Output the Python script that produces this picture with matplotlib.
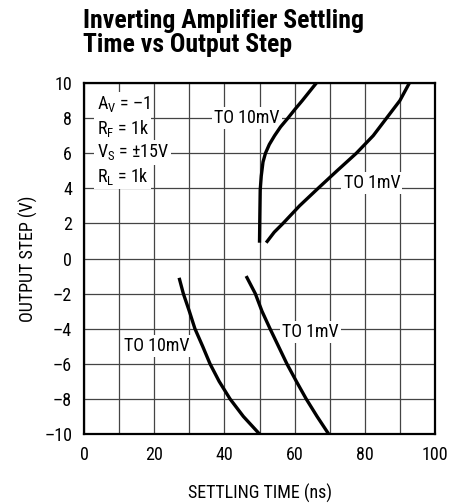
import matplotlib
matplotlib.use('Agg')
import matplotlib.pyplot as plt

plt.rcParams['font.family'] = ['Roboto Condensed', 'DejaVu Sans']
plt.rcParams['mathtext.fontset'] = 'custom'
plt.rcParams['mathtext.rm'] = 'Roboto Condensed'

# settling time (ns) vs output step (V)
pos_10mv_t = [50.0, 50.1, 50.2, 50.5, 51.0, 51.7, 52.8, 54.3, 56.0, 58.1, 60.1, 62.2, 64.2, 66.2]
pos_10mv_v = [0.9, 2.5, 3.9, 4.7, 5.5, 6.0, 6.5, 7.0, 7.5, 8.0, 8.5, 9.0, 9.5, 10.0]

pos_1mv_t = [51.9, 54.2, 56.7, 61.4, 66.7, 72.1, 77.6, 82.4, 86.2, 90.0, 92.7]
pos_1mv_v = [0.9, 1.5, 2.0, 3.0, 4.0, 5.0, 6.0, 7.0, 8.0, 9.0, 10.0]

neg_10mv_t = [27.1, 28.3, 30.0, 31.6, 33.8, 35.9, 38.5, 41.6, 45.4, 50.0]
neg_10mv_v = [-1.1, -2.0, -3.0, -4.0, -5.0, -6.0, -7.0, -8.0, -9.0, -10.0]

neg_1mv_t = [46.2, 48.8, 50.7, 53.0, 55.4, 57.8, 60.5, 63.3, 66.4, 69.7]
neg_1mv_v = [-1.0, -2.0, -3.0, -4.0, -5.0, -6.0, -7.0, -8.0, -9.0, -10.0]

x_ticks = [0, 20, 40, 60, 80, 100]
y_ticks = [10, 8, 6, 4, 2, 0, -2, -4, -6, -8, -10]

fig = plt.figure(figsize=(4.65, 5.04), dpi=100)
ax = fig.add_axes([84 / 465, 70 / 504, 351 / 465, 351 / 504])

ax.set_xlim(0, 100)
ax.set_ylim(-10, 10)
ax.set_xticks(x_ticks)
ax.set_xticks(range(0, 101, 10), minor=True)
ax.set_yticks(y_ticks)
ax.set_yticklabels([str(v).replace('-', '\u2013') for v in y_ticks])
ax.grid(True, which='both', color='#444444', lw=0.9)
ax.set_axisbelow(True)
ax.tick_params(which='both', length=0, labelsize=13, pad=8.5)
for s in ax.spines.values():
    s.set_linewidth(1.6)

for t, v in [(pos_10mv_t, pos_10mv_v), (pos_1mv_t, pos_1mv_v),
             (neg_10mv_t, neg_10mv_v), (neg_1mv_t, neg_1mv_v)]:
    ax.plot(t, v, color='black', lw=2.4, solid_capstyle='butt',
            solid_joinstyle='round', zorder=3)

box = dict(facecolor='white', edgecolor='none', pad=1.5)
ax.text(46.5, 8.0, 'TO 10mV', fontsize=13, ha='center', va='center', bbox=box, zorder=2)
ax.text(82.0, 4.3, 'TO 1mV', fontsize=13, ha='center', va='center', bbox=box, zorder=2)
ax.text(20.6, -5.0, 'TO 10mV', fontsize=13, ha='center', va='center', bbox=box, zorder=2)
ax.text(64.4, -4.2, 'TO 1mV', fontsize=13, ha='center', va='center', bbox=box, zorder=2)

params = ['A$_\\mathregular{V}$ = \u20131', 'R$_\\mathregular{F}$ = 1k',
          'V$_\\mathregular{S}$ = \u00b115V', 'R$_\\mathregular{L}$ = 1k']
for i, p in enumerate(params):
    ax.text(3.6, 8.8 - 1.38 * i, p, fontsize=13,
            ha='left', va='center', bbox=box, zorder=2)

ax.set_xlabel('SETTLING TIME (ns)', fontsize=13, va='center')
ax.xaxis.set_label_coords(0.5, -0.168)
ax.set_ylabel('OUTPUT STEP (V)', fontsize=13, va='center')
ax.yaxis.set_label_coords(-0.158, 0.5)

fig.text(83 / 465, 1 - 9 / 504, 'Inverting Amplifier Settling\nTime vs Output Step',
         fontsize=18.5, fontweight='bold', ha='left', va='top', linespacing=1.02)

fig.savefig('out.png', dpi=100)
